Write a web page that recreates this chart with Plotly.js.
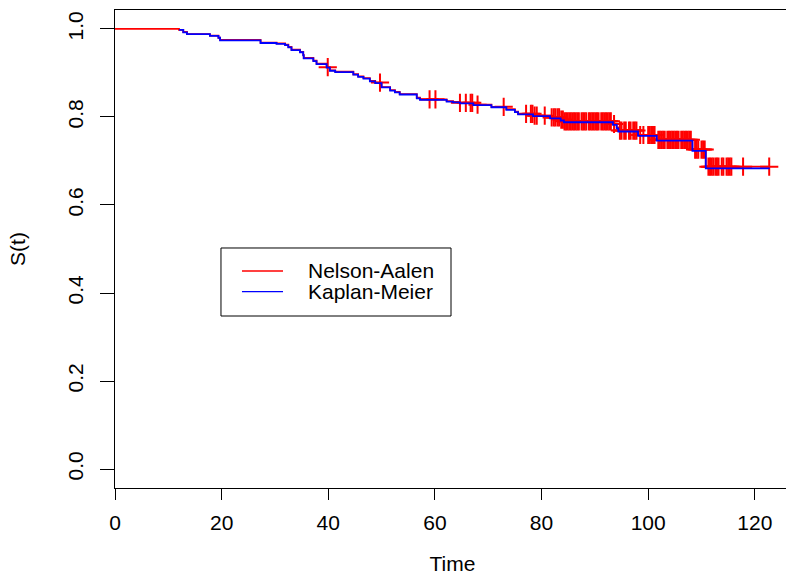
<!DOCTYPE html>
<html>
<head>
<meta charset="utf-8">
<script src="https://cdn.plot.ly/plotly-3.0.1.min.js"></script>
<style>
  html, body { margin: 0; padding: 0; background: #fff; overflow: hidden; }
  #chart { width: 800px; height: 575px; }
</style>
</head>
<body>
<div id="chart"></div>
<script>
// Kaplan-Meier estimate: event times and survival just after each event
const kmTime = [12.0, 12.8, 13.5, 17.8, 19.4, 19.7, 27.3, 30.3, 31.9, 32.5, 33.1, 34.7, 35.3, 35.4,
  37.2, 37.8, 39.7, 40.3, 41.3, 44.7, 45.6, 46.6, 47.8, 48.8, 50.0, 51.6, 52.5, 53.4, 56.6, 57.2,
  62.2, 63.4, 64.7, 67.2, 70.6, 73.4, 75.0, 75.6, 78.4, 81.6, 83.6, 84.2, 93.4, 94.1, 94.4, 98.1,
  101.6, 108.3, 110.8, 122.8];
const kmSurv = [0.998, 0.992, 0.988, 0.984, 0.980, 0.974, 0.968, 0.966, 0.963, 0.958, 0.952, 0.947, 0.940, 0.933,
  0.927, 0.920, 0.912, 0.905, 0.902, 0.896, 0.891, 0.887, 0.881, 0.877, 0.867, 0.860, 0.856, 0.851, 0.842, 0.839,
  0.835, 0.833, 0.831, 0.827, 0.822, 0.816, 0.811, 0.806, 0.802, 0.797, 0.792, 0.788, 0.782, 0.774, 0.767, 0.757,
  0.746, 0.723, 0.683, 0.683];

// Nelson-Aalen estimate exp(-H(t)) on the same event times, starting at t = 0
const naTime = [0].concat(kmTime);
const naSurv = [1.0, 0.998, 0.993, 0.988, 0.985, 0.980, 0.975, 0.969, 0.967, 0.964, 0.959, 0.953, 0.948, 0.941, 0.934,
  0.928, 0.921, 0.913, 0.906, 0.903, 0.897, 0.892, 0.888, 0.882, 0.878, 0.868, 0.861, 0.857, 0.852, 0.844, 0.840,
  0.836, 0.834, 0.832, 0.828, 0.823, 0.818, 0.812, 0.807, 0.803, 0.799, 0.794, 0.790, 0.784, 0.776, 0.769, 0.759,
  0.748, 0.726, 0.687, 0.687];

// Censoring times (marked with + on the Nelson-Aalen curve)
const censorTime = [39.9, 49.7, 59.0, 60.1, 64.7, 65.8, 66.7, 67.0, 68.0, 72.9,
  77.1, 78.0, 78.3, 78.7, 79.1, 80.6,
  81.9, 82.3, 82.6, 83.0, 83.3, 83.7, 84.0,
  84.3, 84.6, 84.9, 85.2, 85.5, 85.8, 86.1, 86.4, 86.7, 87.0,
  87.5, 87.8, 88.1, 88.4,
  88.9, 89.2, 89.5, 89.8, 90.1, 90.4, 90.7,
  91.2, 91.5, 91.8, 92.1, 92.4, 92.7, 93.0, 93.6,
  94.7, 95.0, 95.5, 95.8, 96.4, 96.7, 97.2, 97.5, 97.8,
  98.5, 99.1, 100.0, 100.3, 100.6, 100.9, 101.2,
  101.9, 102.2, 102.5, 102.8, 103.1, 103.6, 103.9, 104.2, 104.5, 104.8, 105.1, 105.4, 105.7,
  106.2, 106.5, 106.8, 107.1, 107.4, 107.7, 108.0,
  108.8, 109.1, 109.4, 110.0, 110.3, 110.6,
  111.3, 111.6, 111.9, 112.2, 112.6, 112.9, 113.2, 113.8, 114.1, 114.7, 115.0, 115.3, 115.6,
  117.8, 122.7];

const xTicks = [0, 20, 40, 60, 80, 100, 120];
const yTicks = [0.0, 0.2, 0.4, 0.6, 0.8, 1.0];
const yTickText = ['0.0', '0.2', '0.4', '0.6', '0.8', '1.0'];

// survival of a right-continuous step function at time t
function stepValue(times, surv, t) {
  let v = surv[0];
  for (let i = 0; i < times.length; i++) {
    if (times[i] <= t) v = surv[i]; else break;
  }
  return v;
}
const censorSurv = censorTime.map(t => stepValue(naTime, naSurv, t));

const RED = '#ff0000';
const BLUE = '#0000ff';
const FONT = 'Liberation Sans, Arial, sans-serif';

const traces = [
  {
    name: 'Nelson-Aalen', x: naTime, y: naSurv, type: 'scatter', mode: 'lines',
    line: { color: RED, width: 1.8, shape: 'hv' }, hoverinfo: 'skip'
  },
  {
    name: 'Nelson-Aalen (censored)', x: censorTime, y: censorSurv, type: 'scatter', mode: 'markers',
    marker: { symbol: 'cross-thin', size: 13, color: RED, line: { color: RED, width: 2 } },
    hoverinfo: 'skip'
  },
  {
    name: 'Kaplan-Meier', x: kmTime, y: kmSurv, type: 'scatter', mode: 'lines',
    line: { color: BLUE, width: 1.8, shape: 'hv' }, hoverinfo: 'skip'
  }
];

// legend box placed in paper coordinates
const lg = { x0: 0.157, x1: 0.4978, y0: 0.3598, y1: 0.5021, lx0: 0.1881, lx1: 0.2489, yRed: 0.454, yBlue: 0.4107, tx: 0.283 };

const layout = {
  width: 800, height: 575,
  margin: { l: 115, r: 10, t: 10, b: 87 },
  paper_bgcolor: '#ffffff', plot_bgcolor: '#ffffff',
  showlegend: false,
  font: { family: FONT, size: 21, color: '#000' },
  xaxis: {
    range: [0, 126.6], tickvals: xTicks, ticktext: xTicks.map(String),
    ticks: 'outside', ticklen: 11, tickwidth: 1, tickcolor: '#000',
    ticklabelstandoff: 5,
    showline: true, linecolor: '#000', linewidth: 1, mirror: true,
    showgrid: false, zeroline: false,
    tickfont: { family: FONT, size: 21, color: '#000' },
    title: { text: 'Time', font: { family: FONT, size: 21, color: '#000' }, standoff: 30 }
  },
  yaxis: {
    range: [-0.043, 1.043], tickvals: yTicks, ticktext: yTickText, tickangle: -90,
    ticks: 'outside', ticklen: 14, tickwidth: 1, tickcolor: '#000',
    ticklabelstandoff: 9,
    showline: true, linecolor: '#000', linewidth: 1, mirror: true,
    showgrid: false, zeroline: false,
    tickfont: { family: FONT, size: 21, color: '#000' },
    title: { text: 'S(t)', font: { family: FONT, size: 21, color: '#000' }, standoff: 32 }
  },
  shapes: [
    { type: 'rect', xref: 'paper', yref: 'paper', x0: lg.x0, x1: lg.x1, y0: lg.y0, y1: lg.y1,
      line: { color: '#000', width: 1 }, fillcolor: '#ffffff' },
    { type: 'line', xref: 'paper', yref: 'paper', x0: lg.lx0, x1: lg.lx1, y0: lg.yRed, y1: lg.yRed,
      line: { color: RED, width: 1.3 } },
    { type: 'line', xref: 'paper', yref: 'paper', x0: lg.lx0, x1: lg.lx1, y0: lg.yBlue, y1: lg.yBlue,
      line: { color: BLUE, width: 1.3 } }
  ],
  annotations: [
    { xref: 'paper', yref: 'paper', x: lg.tx, y: lg.yRed, xanchor: 'left', yanchor: 'middle',
      text: 'Nelson-Aalen', showarrow: false, font: { family: FONT, size: 21, color: '#000' } },
    { xref: 'paper', yref: 'paper', x: lg.tx, y: lg.yBlue, xanchor: 'left', yanchor: 'middle',
      text: 'Kaplan-Meier', showarrow: false, font: { family: FONT, size: 21, color: '#000' } }
  ]
};

Plotly.newPlot('chart', traces, layout, { displayModeBar: false, staticPlot: true });
</script>
</body>
</html>
